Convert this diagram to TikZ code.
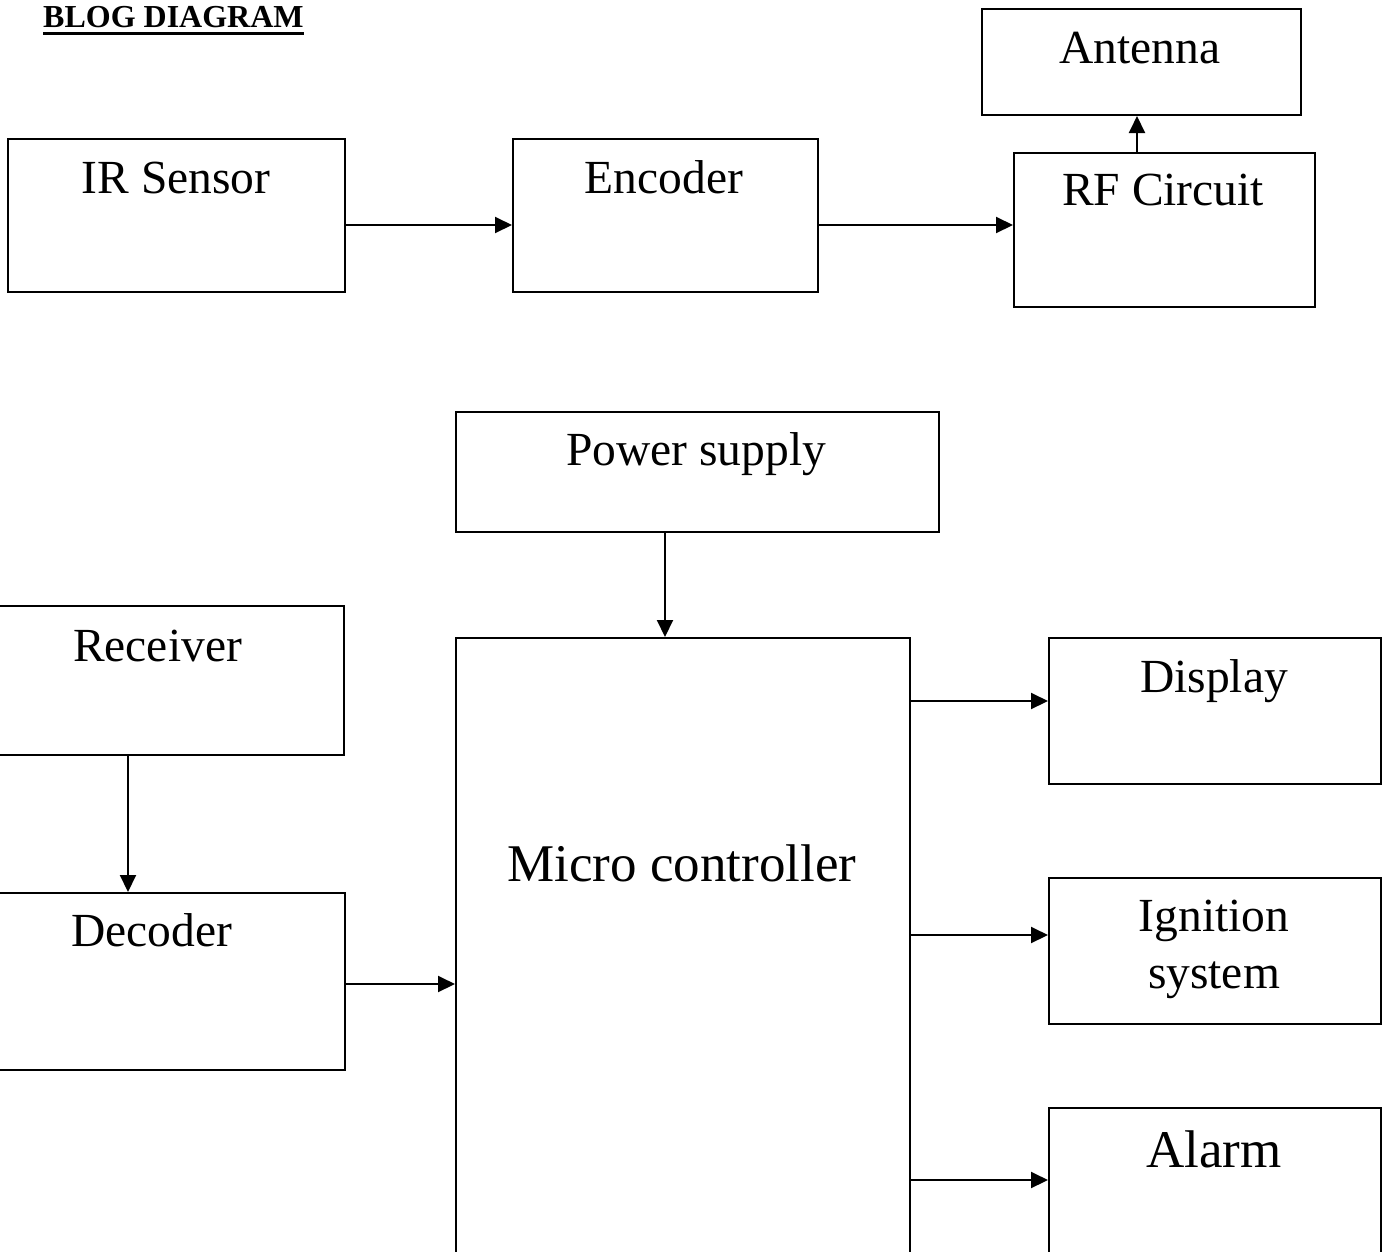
\documentclass[tikz,border=0pt]{standalone}
\usepackage{fontspec}
\setmainfont{Liberation Serif}
\usetikzlibrary{arrows.meta}
\begin{document}
\begin{tikzpicture}[x=1pt,y=-1pt,
  blk/.style={draw, line width=2pt, inner sep=0pt, anchor=north west},
  lbl/.style={font=\fontsize{47.5}{56.7}\selectfont, anchor=base, inner sep=0pt, align=center},
  biglbl/.style={font=\fontsize{53}{60}\selectfont, anchor=base, inner sep=0pt},
  conn/.style={line width=2pt, -{Triangle[length=17pt,width=16pt]}}]
  \useasboundingbox (0,0) rectangle (1382,1251);
  \clip (0,0) rectangle (1382,1251);
  % title
  \node[font=\fontsize{32}{38}\bfseries\selectfont, anchor=base west, inner sep=0pt] (title) at (43,27) {BLOG DIAGRAM};
  \draw[line width=3pt] ([yshift=-6pt]title.base west) -- ([yshift=-6pt]title.base east);
  % transmitter
  \node[blk, minimum width=337pt, minimum height=153pt] (ir) at (7,138) {};
  \node[blk, minimum width=305pt, minimum height=153pt] (enc) at (512,138) {};
  \node[blk, minimum width=301pt, minimum height=154pt] (rf) at (1013,152) {};
  \node[blk, minimum width=319pt, minimum height=106pt] (ant) at (981,8) {};
  \node[lbl] (irtxt) at (176,193) {IR Sensor};
  \node[lbl] (enctxt) at (664,193) {Encoder};
  \node[lbl] (rftxt) at (1163,205) {RF Circuit};
  \node[lbl] (anttxt) at (1140,63) {Antenna};
  \draw[conn] ([yshift=-9.5pt]ir.east) -- ([yshift=-9.5pt]ir.east -| enc.west);
  \draw[conn] ([yshift=5pt]rf.west -| enc.east) -- ([yshift=5pt]rf.west);
  \draw[conn] ([xshift=-27.5pt]rf.north) -- ([xshift=-27.5pt]rf.north |- ant.south);
  % receiver
  \node[blk, minimum width=483pt, minimum height=120pt] (pwr) at (455,411) {};
  \node[blk, minimum width=454pt, minimum height=700pt] (mcu) at (455,637) {};
  \node[blk, minimum width=371pt, minimum height=149pt] (rcv) at (-28,605) {};
  \node[blk, minimum width=385pt, minimum height=177pt] (dec) at (-41,892) {};
  \node[blk, minimum width=332pt, minimum height=146pt] (disp) at (1048,637) {};
  \node[blk, minimum width=332pt, minimum height=146pt] (ign) at (1048,877) {};
  \node[blk, minimum width=332pt, minimum height=200pt] (alm) at (1048,1107) {};
  \node[lbl] (pwrtxt) at (696,465) {Power supply};
  \node[biglbl] (mcutxt) at (682,881) {Micro controller};
  \node[lbl] (rcvtxt) at (157.5,661) {Receiver};
  \node[lbl] (dectxt) at (151.5,946) {Decoder};
  \node[lbl] (disptxt) at (1214,692) {Display};
  \node[lbl] (igntxt) at (1214,988) {Ignition\\system};
  \node[biglbl] (almtxt) at (1214,1167) {Alarm};
  \draw[conn] ([xshift=-32.5pt]pwr.south) -- ([xshift=-32.5pt]pwr.south |- mcu.north);
  \draw[conn] ([xshift=-30.5pt]rcv.south) -- ([xshift=-30.5pt]rcv.south |- dec.north);
  \draw[conn] ([yshift=-2.5pt]dec.east) -- ([yshift=-2.5pt]dec.east -| mcu.west);
  \foreach \n/\s in {disp/10,ign/16,alm/28}
    \draw[conn] ([yshift=\s pt]\n.west -| mcu.east) -- ([yshift=\s pt]\n.west);
\end{tikzpicture}
\end{document}
